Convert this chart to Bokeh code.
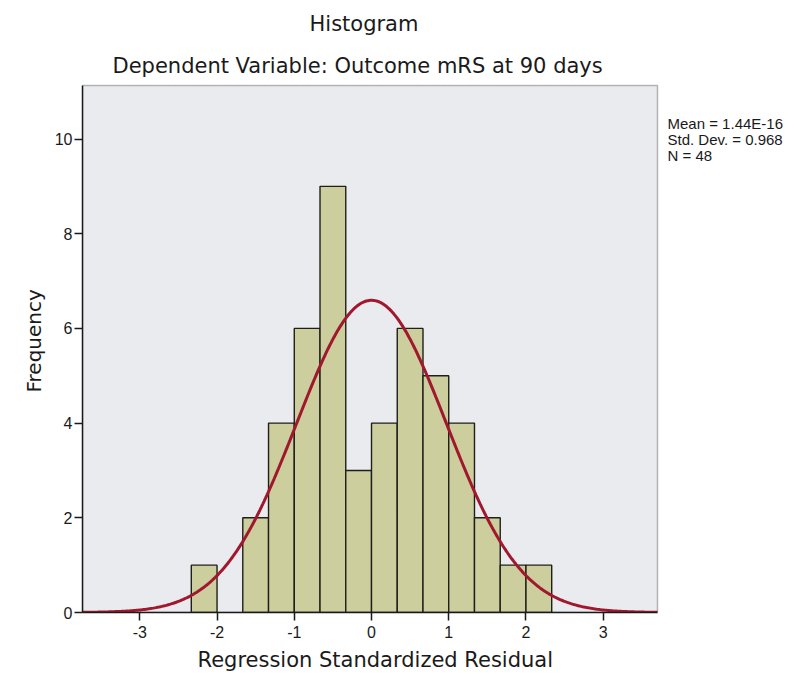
import numpy as np
from bokeh.plotting import figure
from bokeh.models import Label, Range1d, FixedTicker, Title, BoxAnnotation
from bokeh.embed import file_html
from bokeh.resources import INLINE

# Data
bin_edges = [-7/3, -2, -5/3, -4/3, -1, -2/3, -1/3, 0, 1/3, 2/3, 1, 4/3, 5/3, 2, 7/3]
counts = [1, 0, 2, 4, 6, 9, 3, 4, 6, 5, 4, 2, 1, 1]
stat_mean = 1.44e-16
stat_sd = 0.968
stat_n = 48
x_ticks = [-3, -2, -1, 0, 1, 2, 3]
y_ticks = [0, 2, 4, 6, 8, 10]
stats_lines = ["Mean = 1.44E-16", "Std. Dev. = 0.968", "N = 48"]
title_main = "Histogram"
title_sub = "Dependent Variable: Outcome mRS at 90 days"
x_title = "Regression Standardized Residual"
y_title = "Frequency"

# visible plotting area (data units) and layout constants (pixels)
x0, x1 = -3.742, 3.703
y0, y1 = 0, 11.13
AREA_W, AREA_H = 575, 527          # pixel size of the grey plotting area
LEFT, TOP_PAD = 82, 2              # frame left edge, extra frame space above area
FRAME_W = 708                      # frame extends right to hold the statistics box
px_x = AREA_W / (x1 - x0)
px_y = AREA_H / (y1 - y0)
x_end = x0 + FRAME_W / px_x
y_end = y1 + TOP_PAD / px_y

p = figure(frame_width=FRAME_W, frame_height=AREA_H + TOP_PAD,
           min_border_left=LEFT, min_border_right=0,
           min_border_top=83, min_border_bottom=68,
           x_range=Range1d(x0, x_end), y_range=Range1d(y0, y_end),
           output_backend="svg", toolbar_location=None,
           background_fill_color="white", border_fill_color="white")

p.xgrid.visible = False
p.ygrid.visible = False
p.outline_line_color = None

p.add_layout(BoxAnnotation(left=x0, right=x1, bottom=y0, top=y1,
                           fill_color="#EAEBEF", fill_alpha=1.0,
                           line_color="#1a1a1a", line_width=1.5,
                           level="underlay"))

left = [bin_edges[i] for i in range(len(counts)) if counts[i] > 0]
right = [bin_edges[i + 1] for i in range(len(counts)) if counts[i] > 0]
top = [c for c in counts if c > 0]
p.quad(left=left, right=right, top=top, bottom=0,
       fill_color="#CDCE9D", line_color="#1f1f1a", line_width=1.4)

# Normal curve defined by the reported mean, sd and N
bw = bin_edges[1] - bin_edges[0]
xs = np.linspace(x0, x1, 400)
ys = stat_n * bw * np.exp(-0.5 * ((xs - stat_mean) / stat_sd) ** 2) / (stat_sd * np.sqrt(2 * np.pi))
p.line(xs, ys, line_color="#A0182E", line_width=3)

for ax in (p.xaxis[0], p.yaxis[0]):
    ax.axis_line_color = "#1a1a1a"
    ax.axis_line_width = 1.5
    ax.major_tick_line_color = "#1a1a1a"
    ax.major_tick_line_width = 1.5
    ax.major_tick_out = 8
    ax.major_tick_in = 0
    ax.minor_tick_out = 0
    ax.minor_tick_in = 0
    ax.major_label_text_font = "Liberation Sans"
    ax.major_label_text_font_size = "16px"
    ax.major_label_text_color = "#1a1a1a"

p.xaxis.ticker = FixedTicker(ticks=x_ticks)
p.yaxis.ticker = FixedTicker(ticks=y_ticks)
p.xaxis.bounds = (x0, x1)
p.yaxis.bounds = (y0, y1)
p.xaxis.major_label_overrides = {t: str(t) for t in x_ticks}
p.yaxis.major_label_overrides = {t: str(t) for t in y_ticks}
p.xaxis.major_label_standoff = 5
p.yaxis.major_label_standoff = 2

# axis titles placed as Titles so that they line up with the reference
p.add_layout(Title(text=y_title, align="left", offset=220, text_font="DejaVu Sans",
                   text_font_size="20px", text_font_style="normal",
                   text_color="#1a1a1a", standoff=11), "left")
p.add_layout(Title(text=x_title, align="left", offset=115, text_font="DejaVu Sans",
                   text_font_size="21px", text_font_style="normal",
                   text_color="#1a1a1a", standoff=10), "below")

p.title.text = title_main
p.title.align = "left"
p.title.offset = 227
p.title.text_font = "DejaVu Sans"
p.title.text_font_size = "21px"
p.title.text_font_style = "normal"
p.title.text_color = "#1a1a1a"
p.title.standoff = 19
p.add_layout(Title(text=title_sub, align="left", offset=30, text_font="DejaVu Sans",
                   text_font_size="21px", text_font_style="normal",
                   text_color="#1a1a1a", standoff=12), "above")

stats_x = x0 + (667 - LEFT) / px_x
for i, line in enumerate(stats_lines):
    p.add_layout(Label(x=stats_x, y=y1 - (123 - 85 + i * 16) / px_y,
                       text=line, text_align="left", text_baseline="middle",
                       text_font="Liberation Sans", text_font_size="15px",
                       text_color="#1a1a1a"))

open("out.html", "w").write(file_html(p, INLINE))
